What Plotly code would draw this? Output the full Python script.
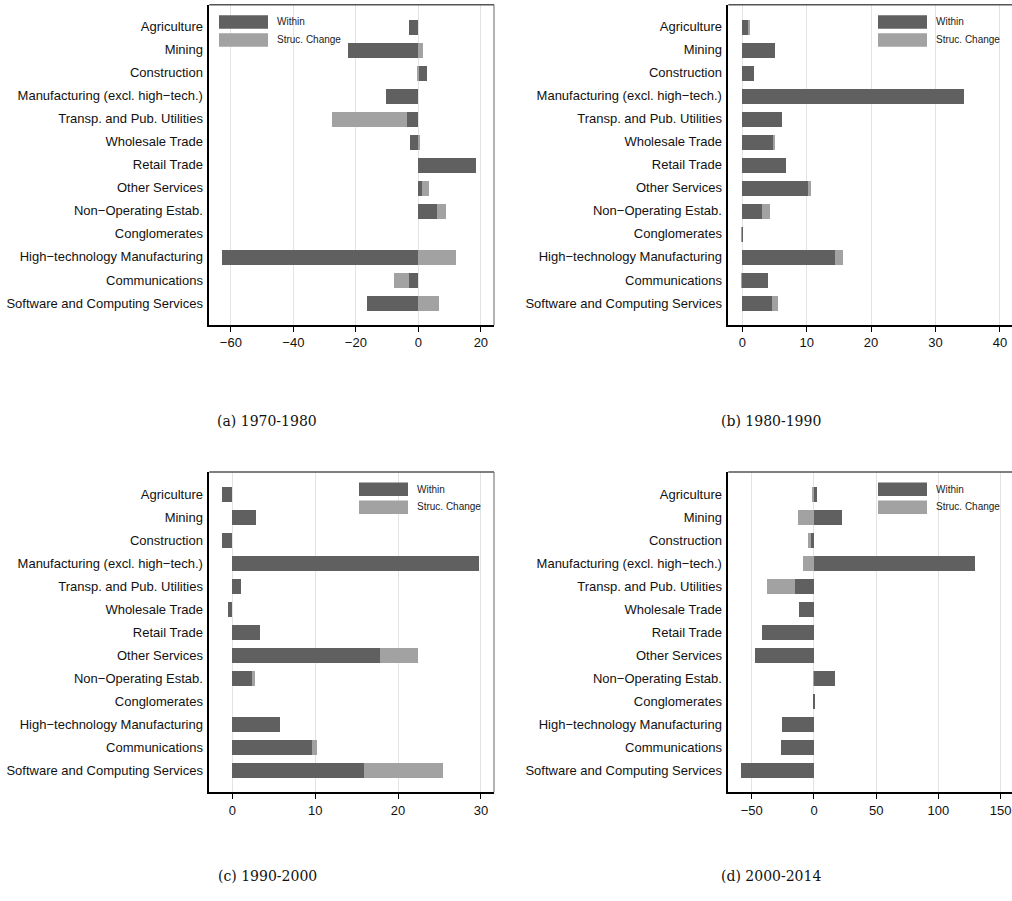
import plotly.graph_objects as go

categories = ["Agriculture", "Mining", "Construction", "Manufacturing (excl. high\u2212tech.)",
              "Transp. and Pub. Utilities", "Wholesale Trade", "Retail Trade", "Other Services",
              "Non\u2212Operating Estab.", "Conglomerates", "High\u2212technology Manufacturing",
              "Communications", "Software and Computing Services"]

within_7080 = [-2.9, -22.5, 2.8, -10.3, -3.6, -2.5, 18.5, 1.2, 6.0, 0.0, -62.8, -2.8, -16.2]
struc_7080 = [0.0, 1.7, -0.4, 0.0, -24.1, 0.3, 0.0, 2.4, 2.8, 0.0, 12.0, -5.0, 6.7]

within_8090 = [1.03, 5.07, 1.8, 34.4, 6.2, 4.9, 6.9, 10.2, 3.16, 0.05, 14.5, 4.0, 4.66]
struc_8090 = [0.26, 0.0, 0.0, 0.0, 0.0, 0.26, 0.0, 0.57, 1.14, -0.12, 1.14, -0.15, 0.88]

within_9000 = [-1.2, 2.9, -1.25, 29.8, 1.04, -0.5, 3.33, 17.8, 2.37, 0.0, 5.8, 9.6, 15.9]
struc_9000 = [0.0, 0.0, 0.0, 0.0, 0.0, 0.0, 0.0, 4.6, 0.36, 0.0, 0.0, 0.64, 9.5]

within_0014 = [2.4, 22.5, -2.8, 130.0, -14.7, -11.8, -41.8, -46.9, 16.9, 1.3, -25.7, -26.0, -58.7]
struc_0014 = [-0.8, -12.9, -1.6, -8.8, -23.0, 0.0, 0.0, 0.0, -0.5, 0.0, 0.0, 0.0, 0.0]

captions = ["(a) 1970-1980", "(b) 1980-1990", "(c) 1990-2000", "(d) 2000-2014"]
x_ticks = [[-60, -40, -20, 0, 20], [0, 10, 20, 30, 40], [0, 10, 20, 30], [-50, 0, 50, 100, 150]]
x_ranges = [[-66.9, 24.2], [-2.17, 41.88], [-2.77, 31.57], [-68.9, 159.2]]

W, H = 1012, 901
DARK = "#606060"
LIGHT = "#a2a2a2"
GRID = "#e3e3e3"
FONT = "Liberation Sans, Arial, sans-serif"


def px(v):
    return v / W


def py(v):
    return 1 - v / H


# panel pixel boxes: left, right, top, bottom
boxes = [(209.3, 494.0, 4.7, 325.0), (728.3, 1012.0, 4.7, 325.0),
         (209.3, 494.0, 472.0, 792.3), (728.3, 1012.0, 472.0, 792.3)]
legend_x = [219, 878, 359, 878]
caption_x = [267, 771, 267, 771]
caption_y = [421, 421, 876, 876]

series = [(within_7080, struc_7080), (within_8090, struc_8090),
          (within_9000, struc_9000), (within_0014, struc_0014)]

fig = go.Figure()
shapes = []
annotations = []
layout = {}

for i, (w, s) in enumerate(series):
    n = "" if i == 0 else str(i + 1)
    xa, ya = "x" + n, "y" + n
    fig.add_trace(go.Bar(y=categories, x=w, orientation="h", marker=dict(color=DARK, line=dict(width=0)),
                         width=0.65, xaxis=xa, yaxis=ya, name="Within", showlegend=False))
    fig.add_trace(go.Bar(y=categories, x=s, orientation="h", marker=dict(color=LIGHT, line=dict(width=0)),
                         width=0.65, xaxis=xa, yaxis=ya, name="Struc. Change", showlegend=False))
    l, r, t, b = boxes[i]
    layout["xaxis" + n] = dict(domain=[px(l), px(r)], range=x_ranges[i], anchor=ya,
                               automargin=False,
                               tickvals=x_ticks[i], showgrid=True, gridcolor=GRID, gridwidth=1,
                               zeroline=False, showline=True, linecolor="black", linewidth=1.5,
                               ticks="outside", ticklen=5, tickcolor="black", tickwidth=1,
                               tickfont=dict(family=FONT, size=13, color="#111"))
    layout["yaxis" + n] = dict(domain=[py(b), py(t)], anchor=xa, type="category",
                               categoryorder="array", categoryarray=categories, automargin=False,
                               range=[12.957, -0.957], showgrid=False, zeroline=False,
                               showline=True, linecolor="black", linewidth=1.5, ticks="",
                               ticklabelstandoff=2,
                               tickfont=dict(family=FONT, size=13, color="#111"))
    # top border (and right border where visible)
    shapes.append(dict(type="line", xref="paper", yref="paper", x0=px(l), x1=px(r),
                       y0=py(t), y1=py(t), line=dict(color="#555", width=1.5)))
    if r < 1000:
        shapes.append(dict(type="line", xref="paper", yref="paper", x0=px(r), x1=px(r),
                           y0=py(t), y1=py(b), line=dict(color="#666", width=1)))
    # custom legend
    lx = legend_x[i]
    for k, (col, lab) in enumerate([(DARK, "Within"), (LIGHT, "Struc. Change")]):
        y0 = t + 10.5 + k * 18
        shapes.append(dict(type="rect", xref="paper", yref="paper", x0=px(lx), x1=px(lx + 49),
                           y0=py(y0 + 13.5), y1=py(y0), fillcolor=col, line=dict(width=0)))
        annotations.append(dict(x=px(lx + 56), y=py(y0 + 6.5), xref="paper", yref="paper",
                                text=lab, showarrow=False, xanchor="left", yanchor="middle",
                                font=dict(family=FONT, size=10, color="#222")))
    annotations.append(dict(x=px(caption_x[i]), y=py(caption_y[i]), xref="paper", yref="paper",
                            text=captions[i], showarrow=False, xanchor="center", yanchor="middle",
                            font=dict(family="DejaVu Serif", size=14, color="#111")))

fig.update_layout(**layout)
fig.update_layout(width=W, height=H, margin=dict(l=0, r=0, t=0, b=0, autoexpand=False),
                  barmode="relative", plot_bgcolor="white", paper_bgcolor="white", shapes=shapes,
                  annotations=annotations, bargap=0)
fig.write_html("out.html", config={"displayModeBar": False},
               post_script="document.body.style.margin='0px';")
